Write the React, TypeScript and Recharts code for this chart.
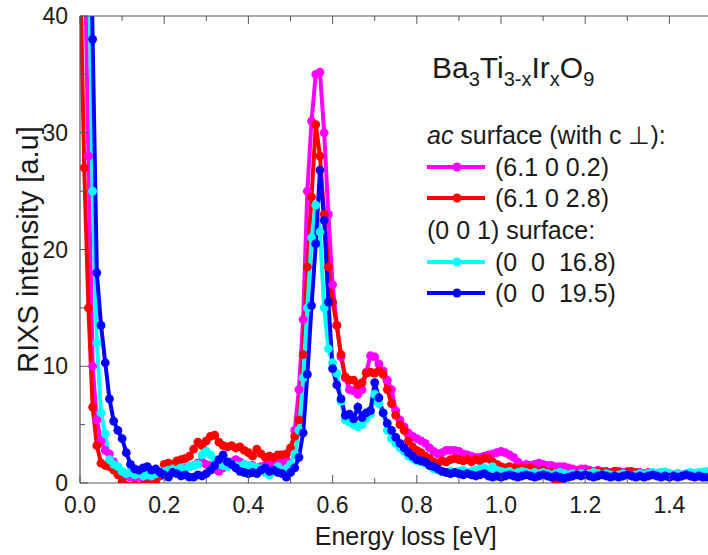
import React from 'react';
import { LineChart, Line, XAxis, YAxis, Legend } from 'recharts';

const FONT = '"Liberation Sans", Arial, sans-serif';

// energy loss grid [eV]
const energy = [
  0.00, 0.01, 0.02, 0.03, 0.04, 0.05, 0.06, 0.07, 0.08, 0.09,
  0.10, 0.11, 0.12, 0.13, 0.14, 0.15, 0.16, 0.17, 0.18, 0.19,
  0.20, 0.21, 0.22, 0.23, 0.24, 0.25, 0.26, 0.27, 0.28, 0.29,
  0.30, 0.31, 0.32, 0.33, 0.34, 0.35, 0.36, 0.37, 0.38, 0.39,
  0.40, 0.41, 0.42, 0.43, 0.44, 0.45, 0.46, 0.47, 0.48, 0.49,
  0.50, 0.51, 0.52, 0.53, 0.54, 0.55, 0.56, 0.57, 0.58, 0.59,
  0.60, 0.61, 0.62, 0.63, 0.64, 0.65, 0.66, 0.67, 0.68, 0.69,
  0.70, 0.71, 0.72, 0.73, 0.74, 0.75, 0.76, 0.77, 0.78, 0.79,
  0.80, 0.81, 0.82, 0.83, 0.84, 0.85, 0.86, 0.87, 0.88, 0.89,
  0.90, 0.91, 0.92, 0.93, 0.94, 0.95, 0.96, 0.97, 0.98, 0.99,
  1.00, 1.01, 1.02, 1.03, 1.04, 1.05, 1.06, 1.07, 1.08, 1.09,
  1.10, 1.11, 1.12, 1.13, 1.14, 1.15, 1.16, 1.17, 1.18, 1.19,
  1.20, 1.21, 1.22, 1.23, 1.24, 1.25, 1.26, 1.27, 1.28, 1.29,
  1.30, 1.31, 1.32, 1.33, 1.34, 1.35, 1.36, 1.37, 1.38, 1.39,
  1.40, 1.41, 1.42, 1.43, 1.44, 1.45, 1.46, 1.47, 1.48, 1.49, 1.50,
];

// (6.1 0 0.2)
const acLowL = [
  70, 48, 28, 10, 5.4, 3.6, 2.8, 2.5, 1.8, 1.2,
  0.8, 0.6, 0.5, 0.4, 0.5, 0.4, 0.3, 0.4, 0.5, 0.6,
  0.8, 0.9, 1.0, 1.1, 1.2, 1.3, 1.4, 1.5, 1.7, 1.8,
  1.6, 1.5, 1.2, 1.0, 1.3, 1.6, 1.8, 2.0, 1.8, 1.6,
  1.4, 1.5, 1.3, 1.4, 1.5, 1.6, 1.7, 1.8, 1.8, 2.0,
  2.8, 4.5, 8.0, 14.0, 25.0, 31.0, 35.0, 35.2, 30.0, 23.0,
  17.0, 13.5, 10.8, 9.0, 8.0, 7.9, 7.6, 8.0, 9.5, 10.9,
  10.8, 10.2, 9.6, 8.8, 8.0, 6.2, 5.4, 4.8, 4.3, 4.0,
  3.8, 3.6, 3.4, 3.0, 2.7, 2.5, 2.6, 2.8, 2.8, 2.8,
  2.7, 2.5, 2.4, 2.3, 2.2, 2.2, 2.3, 2.4, 2.5, 2.6,
  2.7, 2.6, 2.4, 2.2, 1.8, 1.5, 1.6, 1.5, 1.6, 1.7,
  1.6, 1.5, 1.5, 1.4, 1.4, 1.4, 1.3, 1.2, 1.1, 1.2,
  1.2, 1.1, 1.0, 1.1, 1.0, 1.0, 0.9, 1.0, 1.0, 0.9,
  1.0, 0.95, 0.9, 0.9, 0.8, 0.9, 0.8, 0.8, 0.9, 0.8,
  0.8, 0.7, 0.8, 0.7, 0.8, 0.8, 0.7, 0.8, 0.7, 0.8, 0.7,
];

// (6.1 0 2.8)
const acHighL = [
  45, 27, 15, 6.5, 3.2, 1.7, 1.5, 1.4, 1.1, 0.7,
  0.1, -0.2, -0.3, -0.2, -0.3, -0.2, -0.1, -0.2, 0.0, 0.6,
  1.6, 1.7, 1.6, 1.9, 2.0, 2.1, 2.3, 2.9, 3.5, 3.2,
  3.6, 4.0, 4.1, 3.5, 3.2, 3.1, 3.2, 3.0, 3.1, 2.8,
  2.6, 2.3, 2.9, 2.5, 2.2, 2.3, 2.2, 2.4, 2.4, 2.5,
  3.0, 4.0, 5.4, 11.0, 18.5, 24.5, 30.7, 28.0, 23.0, 18.5,
  15.5, 13.5, 11.0, 9.1, 8.8, 8.8, 8.4, 8.6, 9.4, 9.5,
  9.4, 9.6, 9.3, 8.0, 6.8, 5.8, 5.0, 4.5, 3.6, 3.1,
  2.8, 2.6, 2.3, 2.1, 1.8, 1.7, 1.9, 1.8, 2.0, 2.1,
  2.0, 1.9, 2.0, 1.8, 2.0, 1.9, 2.1, 2.1, 1.8, 1.6,
  1.4, 1.3, 1.4, 1.3, 1.2, 1.3, 1.2, 1.3, 1.1, 1.0,
  1.1, 0.9, 0.9, 0.1, 0.2, 0.5, 0.7, 0.6, 0.8, 0.7,
  0.8, 0.9, 0.9, 1.0, 0.9, 0.9, 0.8, 1.0, 0.9, 0.8,
  0.9, 1.0, 0.9, 0.8, 0.7, 0.8, 0.7, 0.8, 0.7, 0.8,
  0.7, 0.6, 0.7, 0.6, 0.7, 0.6, 0.7, 0.6, 0.5, 0.6, 0.6,
];

// (0 0 16.8)
const c001Low = [
  90, 70, 48, 25, 12, 6.0, 4.2, 2.0, 1.6, 1.4,
  1.0, 0.8, 0.9, 0.7, 0.8, 0.6, 0.7, 0.6, 0.8, 0.9,
  1.0, 1.1, 1.2, 1.1, 1.3, 1.2, 1.4, 1.5, 1.6, 2.4,
  2.7, 2.4, 2.0, 1.6, 1.5, 1.4, 1.6, 1.5, 1.4, 1.6,
  1.5, 1.4, 1.3, 1.2, 0.9, 0.7, 1.0, 1.4, 1.0, 1.2,
  1.6, 2.5, 4.5, 9.0, 15.0, 21.0, 23.8, 21.5, 15.0, 11.5,
  10.3, 9.4, 7.0, 5.4, 5.2, 5.0, 4.8, 5.0, 5.5, 5.9,
  7.6, 6.8, 6.0, 4.5, 3.8, 3.4, 3.0, 2.7, 2.3, 2.1,
  1.9, 1.8, 1.7, 1.5, 1.2, 1.1, 1.0, 0.9, 1.0, 0.9,
  1.0, 1.1, 0.9, 1.0, 1.1, 1.2, 1.3, 1.1, 1.4, 1.1,
  1.0, 0.9, 1.0, 0.8, 0.9, 1.0, 0.9, 0.8, 0.9, 0.8,
  0.9, 0.8, 0.7, 0.8, 0.9, 0.8, 0.7, 0.8, 0.7, 0.8,
  0.7, 0.8, 0.9, 0.8, 0.7, 0.8, 0.7, 0.6, 0.7, 0.8,
  0.7, 0.6, 0.7, 0.8, 0.7, 0.8, 0.9, 0.8, 0.9, 0.95,
  0.8, 0.7, 0.8, 0.7, 0.8, 0.9, 0.85, 0.9, 0.95, 1.0, 0.9,
];

// (0 0 19.5)
const c001High = [
  110, 85, 58, 38, 18, 13.5, 10.3, 7.2, 5.3, 4.5,
  3.8, 2.6, 1.6, 1.2, 1.1, 1.3, 1.4, 1.1, 1.2, 0.9,
  0.7, 0.5, 0.9, 0.8, 0.6, 0.7, 0.5, 0.5, 0.7, 0.6,
  0.8, 1.1, 1.5, 2.0, 2.4, 1.8, 1.6, 1.3, 1.0, 0.9,
  0.8, 0.9, 0.8, 1.1, 1.3, 1.0, 1.1, 0.9, 0.8, 0.5,
  0.9, 1.3, 2.2, 4.3, 9.3, 15.2, 20.5, 26.8, 22.5, 15.5,
  9.8, 8.4, 7.2, 5.8, 5.9, 5.5, 6.5, 5.6, 6.0, 6.2,
  8.6, 7.3, 6.0, 5.1, 4.5, 3.9, 3.4, 3.0, 2.6, 2.3,
  2.0, 1.9, 1.8, 1.5, 1.4, 1.2, 1.0, 0.9, 0.8, 0.9,
  0.8, 0.7, 0.8, 0.7, 0.6, 0.7, 0.8, 0.6, 0.5, 0.6,
  0.5, 0.6, 0.7, 0.6, 0.5, 0.6, 0.7, 0.6, 0.5, 0.6,
  0.7, 0.6, 0.5, 0.6, 0.5, 0.4, 0.5, 0.6, 0.7, 0.6,
  0.7, 0.6, 0.5, 0.6, 0.7, 0.6, 0.5, 0.6, 0.5, 0.6,
  0.7, 0.6, 0.5, 0.6, 0.5, 0.6, 0.7, 0.6, 0.5, 0.6,
  0.5, 0.6, 0.5, 0.6, 0.7, 0.6, 0.5, 0.6, 0.5, 0.5, 0.5,
];

const xTicks = [0, 0.1, 0.2, 0.3, 0.4, 0.5, 0.6, 0.7, 0.8, 0.9, 1.0, 1.1, 1.2, 1.3, 1.4, 1.5];
const yTicks = [0, 5, 10, 15, 20, 25, 30, 35, 40];

const series = [
  { key: 'acLowL', label: '(6.1 0 0.2)', color: '#ff00ff', values: acLowL },
  { key: 'acHighL', label: '(6.1 0 2.8)', color: '#ff0000', values: acHighL },
  { key: 'c001Low', label: '(0  0  16.8)', color: '#00ffff', values: c001Low },
  { key: 'c001High', label: '(0  0  19.5)', color: '#0000ff', values: c001High },
];

const data = energy.map((e, i) => {
  const row: Record<string, number> = { e };
  series.forEach((s) => {
    row[s.key] = s.values[i];
  });
  return row;
});

const AXIS = '#555';
const TEXT = '#1a1a1a';

const BottomTick = (props: any) => {
  const { x, y, payload } = props;
  const major = Math.round(payload.value * 10) % 2 === 0;
  return (
    <g>
      <line x1={x} x2={x} y1={y} y2={y - (major ? 8 : 5)} stroke={AXIS} strokeWidth={1} />
      {major && (
        <text x={x} y={y + 30} textAnchor="middle" fontSize={23} fontFamily={FONT} fill={TEXT}>
          {payload.value.toFixed(1)}
        </text>
      )}
    </g>
  );
};

const TopTick = (props: any) => {
  const { x, y, payload } = props;
  const major = Math.round(payload.value * 10) % 2 === 0;
  return <line x1={x} x2={x} y1={y} y2={y + (major ? 8 : 5)} stroke={AXIS} strokeWidth={1} />;
};

const LeftTick = (props: any) => {
  const { x, y, payload } = props;
  const major = payload.value % 10 === 0;
  return (
    <g>
      <line x1={x} x2={x + (major ? 8 : 5)} y1={y} y2={y} stroke={AXIS} strokeWidth={1} />
      {major && (
        <text x={x - 12} y={y + 8} textAnchor="end" fontSize={23} fontFamily={FONT} fill={TEXT}>
          {payload.value}
        </text>
      )}
    </g>
  );
};

const sub: React.CSSProperties = { fontSize: 20, position: 'relative', top: 8 };

const Row = ({ cy, color, children }: { cy: number; color?: string; children: React.ReactNode }) => (
  <>
    {color && (
      <svg style={{ position: 'absolute', left: 427, top: cy - 6 }} width={58} height={12}>
        <line x1={0} x2={58} y1={6} y2={6} stroke={color} strokeWidth={4} />
        <circle cx={30} cy={6} r={4.5} fill={color} />
      </svg>
    )}
    <div
      style={{
        position: 'absolute',
        left: color ? 495 : 427,
        top: cy - 14,
        fontSize: 25,
        lineHeight: '28px',
        whiteSpace: 'pre',
      }}
    >
      {children}
    </div>
  </>
);

const LegendBox = () => (
  <div style={{ position: 'relative', width: 708, height: 320, fontFamily: FONT, color: TEXT, textAlign: 'left' }}>
    <div style={{ position: 'absolute', left: 432, top: 53, fontSize: 30, lineHeight: '29px', whiteSpace: 'nowrap' }}>
      Ba<span style={sub}>3</span>Ti<span style={sub}>3-x</span>Ir<span style={sub}>x</span>O<span style={sub}>9</span>
    </div>
    <Row cy={135}>
      <i>ac</i> surface (with c ⊥):
    </Row>
    <Row cy={167} color={series[0].color}>{series[0].label}</Row>
    <Row cy={198} color={series[1].color}>{series[1].label}</Row>
    <Row cy={230}>(0 0 1) surface:</Row>
    <Row cy={262} color={series[2].color}>{series[2].label}</Row>
    <Row cy={293} color={series[3].color}>{series[3].label}</Row>
  </div>
);

export default function App() {
  return (
    <div
      style={{
        position: 'absolute',
        left: 0,
        top: 0,
        width: 708,
        height: 555,
        overflow: 'hidden',
        background: '#fff',
        fontFamily: FONT,
      }}
    >
      <LineChart width={720} height={555} data={data} margin={{ top: 0, right: 8.5, bottom: 0, left: 0 }}>
        <XAxis
          dataKey="e"
          type="number"
          domain={[0, 1.5]}
          ticks={xTicks}
          allowDataOverflow
          height={72}
          tickSize={0}
          tickMargin={0}
          tick={<BottomTick />}
          axisLine={{ stroke: AXIS, strokeWidth: 1.2 }}
          tickLine={false}
          interval={0}
          label={{
            value: 'Energy loss [eV]',
            position: 'insideBottom',
            offset: 10,
            dx: 10,
            style: { fontSize: 25, fill: TEXT, fontFamily: FONT },
          }}
        />
        <XAxis
          xAxisId="top"
          dataKey="e"
          type="number"
          orientation="top"
          domain={[0, 1.5]}
          ticks={xTicks}
          allowDataOverflow
          height={16}
          tickSize={0}
          tickMargin={0}
          tick={<TopTick />}
          axisLine={{ stroke: AXIS, strokeWidth: 1.2 }}
          tickLine={false}
          interval={0}
        />
        <YAxis
          type="number"
          domain={[0, 40]}
          ticks={yTicks}
          allowDataOverflow
          width={80}
          tickSize={0}
          tickMargin={0}
          tick={<LeftTick />}
          axisLine={{ stroke: AXIS, strokeWidth: 1.2 }}
          tickLine={false}
          interval={0}
          label={{
            value: 'RIXS intensity [a.u]',
            angle: -90,
            position: 'insideLeft',
            offset: 28,
            style: { textAnchor: 'middle', fontSize: 29, fill: TEXT, fontFamily: FONT },
          }}
        />
        <Legend
          layout="vertical"
          align="center"
          verticalAlign="middle"
          wrapperStyle={{ left: 0, top: 0, width: 708 }}
          content={() => <LegendBox />}
        />
        {series.map((s) => (
          <Line
            key={s.key}
            dataKey={s.key}
            name={s.label}
            type="linear"
            stroke={s.color}
            strokeWidth={4}
            dot={{ r: 4.4, fill: s.color, stroke: s.color, strokeWidth: 0 }}
            activeDot={false}
            isAnimationActive={false}
          />
        ))}
      </LineChart>
    </div>
  );
}
